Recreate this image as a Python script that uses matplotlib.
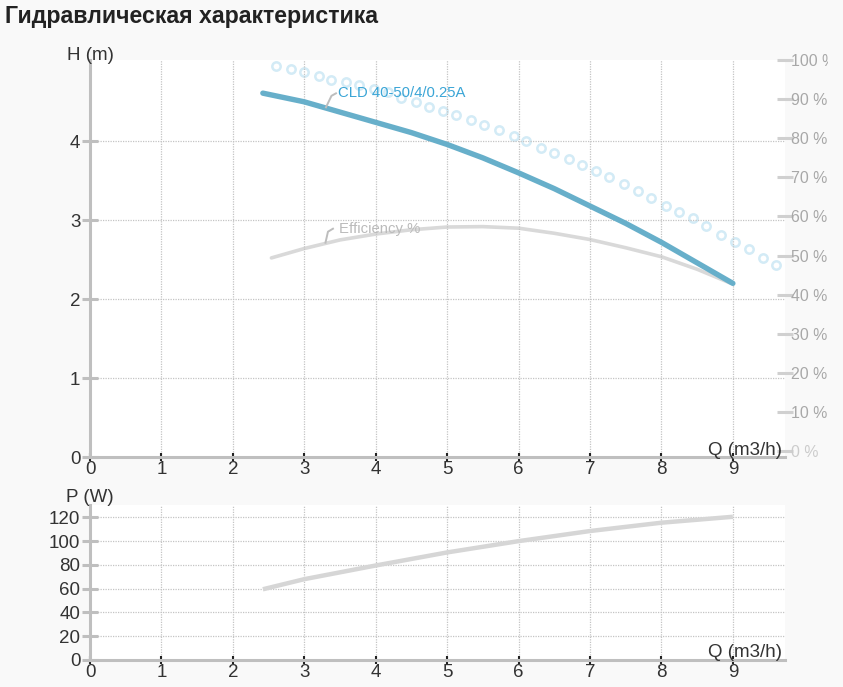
import matplotlib
matplotlib.use("Agg")
import matplotlib.pyplot as plt
from matplotlib.transforms import Bbox

plt.rcParams['font.family'] = ['Liberation Sans', 'DejaVu Sans']

# data
q_head = [2.42, 3.0, 3.5, 4.0, 4.5, 5.0, 5.5, 6.0, 6.5, 7.0, 7.5, 8.0, 8.5, 9.0]
head = [4.61, 4.50, 4.37, 4.24, 4.11, 3.96, 3.79, 3.60, 3.40, 3.18, 2.96, 2.72, 2.46, 2.20]

q_eff = [2.54, 3.0, 3.5, 4.0, 4.5, 5.0, 5.5, 6.0, 6.5, 7.0, 7.5, 8.0, 8.5, 8.96]
eff = [49.4, 51.8, 54.0, 55.5, 56.6, 57.3, 57.4, 57.0, 55.7, 54.1, 52.0, 49.7, 46.5, 43.0]

q_dots = [2.61, 2.81, 3.00, 3.20, 3.38, 3.58, 3.77, 3.97, 4.17, 4.36, 4.56, 4.75,
          4.94, 5.13, 5.33, 5.52, 5.73, 5.93, 6.11, 6.31, 6.50, 6.70, 6.89, 7.08,
          7.27, 7.48, 7.67, 7.86, 8.06, 8.25, 8.44, 8.63, 8.83, 9.03, 9.22, 9.42, 9.61]
dots = [98.5, 97.6, 96.9, 95.9, 95.0, 94.4, 93.6, 92.7, 91.7, 90.2, 89.3, 88.0,
        87.0, 85.9, 84.6, 83.4, 82.0, 80.5, 79.3, 77.6, 76.2, 74.7, 73.2, 71.5,
        70.0, 68.4, 66.4, 64.7, 62.8, 61.1, 59.5, 57.5, 55.3, 53.4, 51.6, 49.4, 47.5]

q_pow = [2.42, 3.0, 4.0, 5.0, 6.0, 7.0, 8.0, 9.0]
power = [59.5, 68.0, 79.5, 90.5, 100.0, 108.5, 115.5, 120.5]

x_ticks = list(range(0, 10))
h_ticks = [0, 1, 2, 3, 4]
pct_ticks = list(range(0, 101, 10))
p_ticks = [0, 20, 40, 60, 80, 100, 120]

W, H = 843, 687
bg = '#f9f9f9'
grid_c = '#c4c4c4'
axis_c = '#bfbfbf'
text_c = '#333333'
fs = 13.5

fig = plt.figure(figsize=(W / 100, H / 100), dpi=100, facecolor=bg)


def px_axes(left, top, right, bottom):
    return fig.add_axes([left / W, 1 - bottom / H, (right - left) / W, (bottom - top) / H])


def style_axes(ax, yticks):
    ax.set_facecolor('white')
    ax.set_xlim(0, 9.73)
    for s in ['top', 'right']:
        ax.spines[s].set_visible(False)
    for s in ['left', 'bottom']:
        ax.spines[s].set_color(axis_c)
        ax.spines[s].set_linewidth(2.2)
    ax.set_xticks(x_ticks)
    ax.set_yticks(yticks)
    ax.grid(True, color=grid_c, linestyle=(0, (1, 1)), linewidth=0.9)
    ax.tick_params(axis='x', direction='inout', length=5.5, width=1.5, color='#222222',
                   labelsize=fs, labelcolor=text_c, pad=0)
    ax.tick_params(axis='y', direction='inout', length=12, width=2.2, color=axis_c,
                   labelsize=fs, labelcolor=text_c, pad=1)
    ax.set_axisbelow(True)


# --- head / efficiency panel ---
ax1 = px_axes(90, 60, 785, 457)
style_axes(ax1, h_ticks)
ax1.set_ylim(0, 5.03)

ax2 = ax1.twinx()
ax2.set_ylim(-1.5, 100)
for s in ax2.spines.values():
    s.set_visible(False)
ax2.set_yticks(pct_ticks)
ax2.set_yticklabels([f'{t} %' for t in pct_ticks])
ax2.tick_params(axis='y', direction='inout', length=11, width=2.2, color='#d0d0d0',
                labelsize=11.4, labelcolor='#a8a8a8', pad=-1.5)
clip = Bbox.from_extents(0, 0, 828, H)
for lab in ax2.get_yticklabels():
    lab.set_clip_on(True)
    lab.set_clip_box(clip)
ax2.get_yticklabels()[0].set_color('#cccccc')

ax2.plot(q_dots, dots, 'o', markersize=6, markerfacecolor='none',
         markeredgecolor='#d3ebf6', markeredgewidth=1.8, zorder=2)
ax2.plot(q_eff, eff, color='#d9d9d9', linewidth=2.6, solid_capstyle='round', zorder=3)
ax1.plot(q_head, head, color='#67afca', linewidth=3.9, solid_capstyle='round',
         solid_joinstyle='round', zorder=4)
ax1.set_zorder(ax2.get_zorder() + 1)
ax2.patch.set_visible(True)
ax2.patch.set_facecolor('white')
ax1.set_facecolor('none')


def to_h(px, py):
    return (px - 90) / 71.44, (457 - py) / 79.0


# series labels with leader lines
lx, ly = zip(*[to_h(326, 107), to_h(331.5, 95.5), to_h(336, 93)])
ax1.plot(lx, ly, color='#bdbdbd', linewidth=1.4, zorder=5)
ax1.text(*to_h(338, 93), 'CLD 40-50/4/0.25A', color='#3aa5d6', fontsize=10.7,
         ha='left', va='center', zorder=6)
lx, ly = zip(*[to_h(325.5, 242.5), to_h(328, 231.5), to_h(333, 228.5)])
ax1.plot(lx, ly, color='#bdbdbd', linewidth=1.4, zorder=5)
ax1.text(*to_h(339, 228.5), 'Efficiency %', color='#bbbbbb', fontsize=10.7,
         ha='left', va='center', zorder=6)

ax1.text(9.69, 0.03, 'Q (m3/h)', ha='right', va='baseline', fontsize=fs,
         color=text_c, clip_on=False, zorder=6)
fig.text(90 / W, 1 - 55 / H, 'H (m)', ha='center', va='center', fontsize=fs, color=text_c)

# --- power panel ---
ax3 = px_axes(90, 505, 785, 660)
style_axes(ax3, p_ticks)
ax3.set_ylim(0, 130.4)
ax3.plot(q_pow, power, color='#d6d6d6', linewidth=3.2, solid_capstyle='butt', zorder=3)
ax3.text(9.69, 2.5, 'Q (m3/h)', ha='right', va='baseline', fontsize=fs,
         color=text_c, clip_on=False, zorder=6)
fig.text(90 / W, 1 - 497 / H, 'P (W)', ha='center', va='center', fontsize=fs, color=text_c)

fig.text(5 / W, 1 - 23 / H, 'Гидравлическая характеристика', fontsize=16.7,
         fontweight='bold', color='#222222', ha='left', va='baseline')

fig.savefig('out.png', dpi=100, facecolor=bg)
